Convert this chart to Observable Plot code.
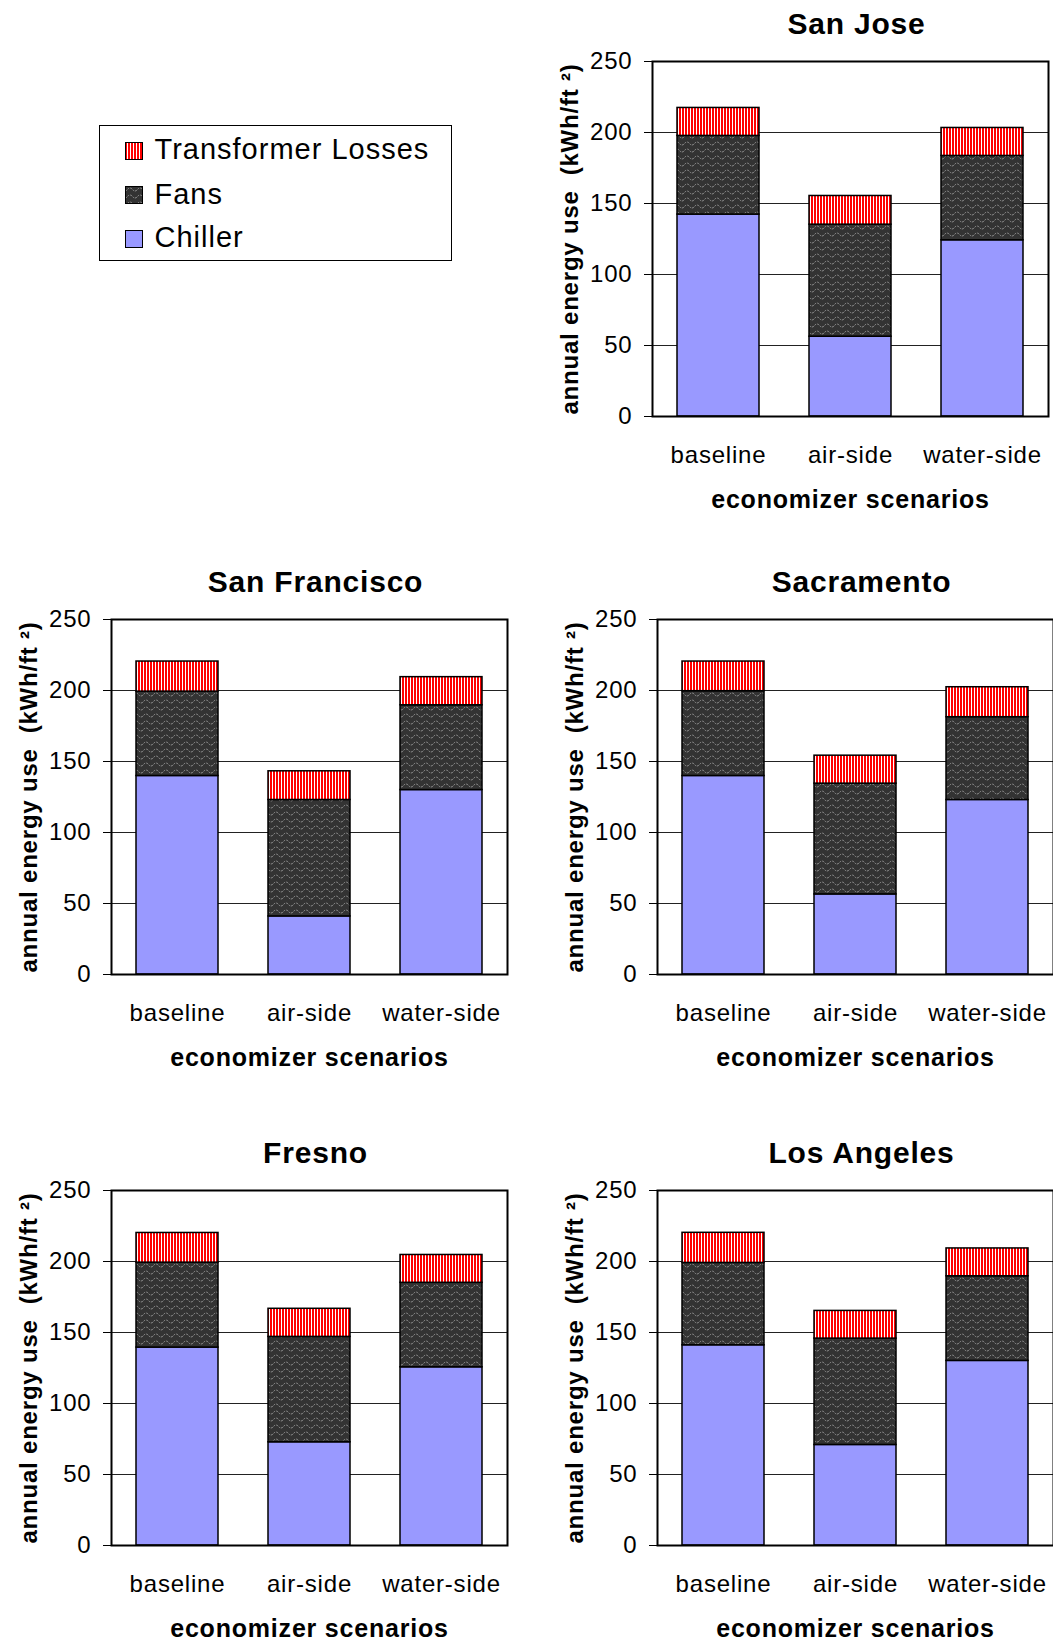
<!DOCTYPE html>
<html>
<head>
<meta charset="utf-8">
<script src="https://cdn.jsdelivr.net/npm/d3@7"></script>
<script src="https://cdn.jsdelivr.net/npm/@observablehq/plot@0.6"></script>
<style>
  body { margin: 0; background: #fff; }
  #page { position: relative; width: 1053px; height: 1643px; overflow: hidden; background: #fff;
          font-family: "Liberation Sans", Arial, sans-serif; }
  #legend { position: absolute; left: 99px; top: 125px; width: 353px; height: 136px;
            box-sizing: border-box; border: 1.5px solid #000; background: #fff; }
  .sw { position: absolute; left: 24.5px; width: 18px; height: 18px; }
  .lt { position: absolute; left: 54.5px; height: 36px; line-height: 36px; font-size: 29px;
        letter-spacing: 1px; white-space: nowrap; color: #000; }
</style>
</head>
<body>
<div id="page">
  <svg width="0" height="0" style="position:absolute">
    <defs>
      <pattern id="patTrans" patternUnits="userSpaceOnUse" width="3" height="4">
        <rect x="0" y="0" width="3" height="4" fill="#ff0000"></rect>
        <rect x="2" y="0" width="1" height="4" fill="#ffffff"></rect>
      </pattern>
      <pattern id="patFans" patternUnits="userSpaceOnUse" width="10" height="7">
        <rect x="0" y="0" width="10" height="7" fill="#333333"></rect>
        <path d="M0,5 C2.5,5 2.5,2 5,2 C7.5,2 7.5,5 10,5" fill="none" stroke="#8c8c8c" stroke-width="1" stroke-dasharray="2,1"></path>
      </pattern>
    </defs>
  </svg>
  <div id="legend">
    <svg class="sw" style="top:15.5px" viewBox="0 0 18 18"><rect x="0.5" y="0.5" width="17" height="17" fill="url(#patTrans)" stroke="#000" stroke-width="1"></rect></svg>
    <div class="lt" style="top:4.8px">Transformer Losses</div>
    <svg class="sw" style="top:60px" viewBox="0 0 18 18"><rect x="0.5" y="0.5" width="17" height="17" fill="url(#patFans)" stroke="#000" stroke-width="1"></rect></svg>
    <div class="lt" style="top:49.8px">Fans</div>
    <svg class="sw" style="top:103.5px" viewBox="0 0 18 18"><rect x="0.5" y="0.5" width="17" height="17" fill="#9999ff" stroke="#000" stroke-width="1"></rect></svg>
    <div class="lt" style="top:93.2px">Chiller</div>
  </div>
</div>
<script>
// ---- data ----
const scenarios = ["baseline", "air-side", "water-side"];
const components = ["Chiller", "Fans", "Transformer Losses"];
const componentFills = ["#9999ff", "url(#patFans)", "url(#patTrans)"];
const yTicks = [0, 50, 100, 150, 200, 250];
const gridTicks = [50, 100, 150, 200];
const xTitle = "economizer scenarios";
const yTitle = "annual energy use\u00a0\u00a0(kWh/ft\u00a0\u00b2)";

const cities = ["San Jose", "San Francisco", "Sacramento", "Fresno", "Los Angeles"];

const chillerSanJose = [142.2, 56.2, 124.1];
const fansSanJose = [55.4, 78.9, 59.4];
const transSanJose = [19.7, 20.2, 19.7];

const chillerSanFrancisco = [139.8, 40.9, 129.9];
const fansSanFrancisco = [59.4, 82.0, 59.7];
const transSanFrancisco = [21.2, 20.2, 19.8];

const chillerSacramento = [139.8, 56.4, 122.9];
const fansSacramento = [59.7, 78.0, 58.3];
const transSacramento = [20.9, 19.7, 21.1];

const chillerFresno = [139.4, 72.7, 125.5];
const fansFresno = [59.8, 74.2, 59.5];
const transFresno = [20.9, 19.8, 19.6];

const chillerLosAngeles = [141.0, 70.8, 130.0];
const fansLosAngeles = [58.0, 74.9, 59.6];
const transLosAngeles = [21.2, 19.5, 19.6];

// ---- panels ----
function panel(city, chillerV, fansV, transV, frameX, frameY) {
  const data = [];
  scenarios.forEach((s, i) => {
    data.push({scenario: s, component: components[0], value: chillerV[i]});
    data.push({scenario: s, component: components[1], value: fansV[i]});
    data.push({scenario: s, component: components[2], value: transV[i]});
  });
  const mL = 120, mT = 61, mR = 8, mB = 100, fw = 396, fh = 355;
  const chart = Plot.plot({
    width: mL + fw + mR,
    height: mT + fh + mB,
    marginLeft: mL, marginTop: mT, marginRight: mR, marginBottom: mB,
    x: {domain: scenarios, paddingInner: 0.38, paddingOuter: 0.186, label: null},
    y: {domain: [0, 250], label: null},
    color: {domain: components, range: componentFills},
    style: {
      fontFamily: "'Liberation Sans', Arial, sans-serif",
      fontSize: "24px",
      letterSpacing: "0.8px",
      color: "#000",
      background: "transparent",
      overflow: "visible"
    },
    marks: [
      Plot.gridY(gridTicks, {stroke: "#222", strokeOpacity: 1, strokeWidth: 1}),
      Plot.barY(data, {x: "scenario", y: "value", fill: "component", stroke: "#000", strokeWidth: 1.5}),
      Plot.frame({stroke: "#000", strokeWidth: 2}),
      Plot.axisY(yTicks, {tickSize: 8, tickPadding: 12, fontSize: 24, label: null, stroke: "#000"}),
      Plot.axisX({tickSize: 0, tickPadding: 29, fontSize: 24, label: null}),
      Plot.text([city], {text: d => d, frameAnchor: "top", dx: 6, dy: -28, lineAnchor: "bottom",
                         fontSize: 30, fontWeight: "bold", letterSpacing: "1.3px"}),
      Plot.text([xTitle], {text: d => d, frameAnchor: "bottom", dy: 91, lineAnchor: "bottom",
                           fontSize: 25, fontWeight: "bold"}),
      Plot.text([yTitle], {text: d => d, frameAnchor: "left", dx: -75, rotate: -90, lineAnchor: "bottom",
                           textAnchor: "middle", fontSize: 24, fontWeight: "bold", letterSpacing: "1.4px"})
    ]
  });
  chart.style.position = "absolute";
  chart.style.left = (frameX - mL) + "px";
  chart.style.top = (frameY - mT) + "px";
  document.getElementById("page").appendChild(chart);
}

panel(cities[0], chillerSanJose, fansSanJose, transSanJose, 652, 61);
panel(cities[1], chillerSanFrancisco, fansSanFrancisco, transSanFrancisco, 111, 619);
panel(cities[2], chillerSacramento, fansSacramento, transSacramento, 657, 619);
panel(cities[3], chillerFresno, fansFresno, transFresno, 111, 1190);
panel(cities[4], chillerLosAngeles, fansLosAngeles, transLosAngeles, 657, 1190);
</script>
</body>
</html>
